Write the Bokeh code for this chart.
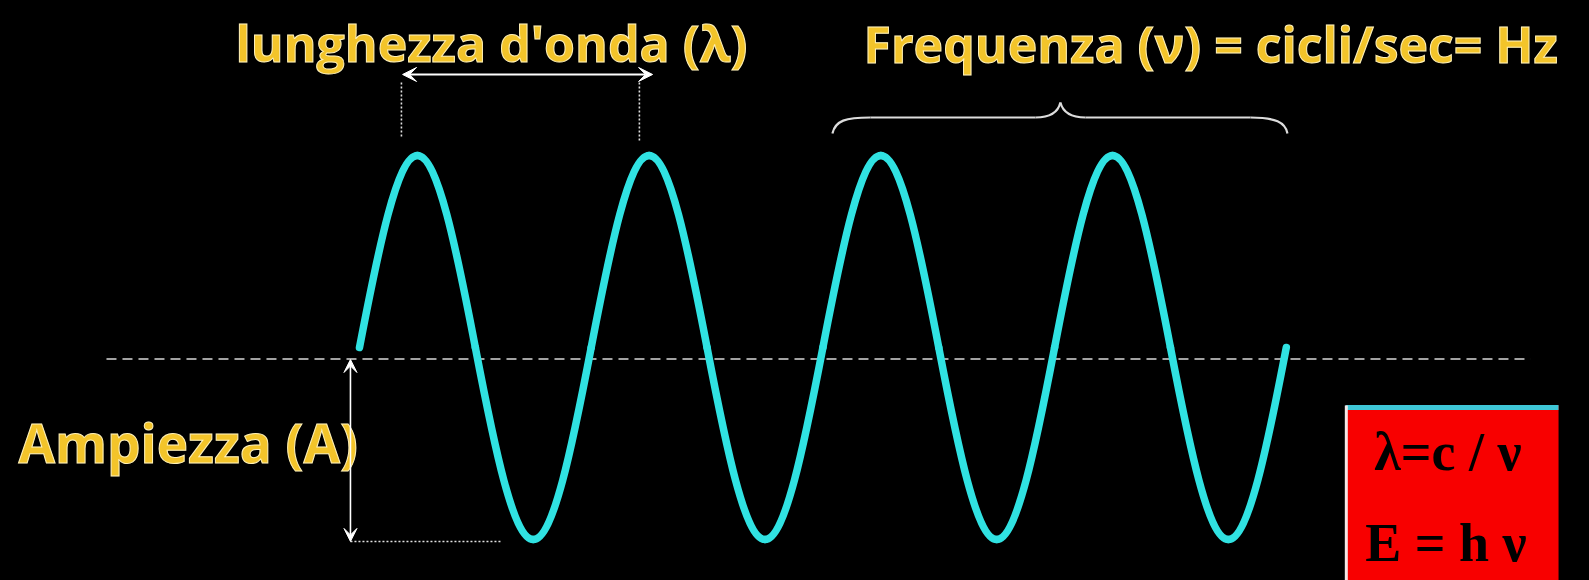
from bokeh.plotting import figure
from bokeh.models import Range1d, Arrow, VeeHead
from bokeh.core.properties import value
from bokeh.embed import file_html
from bokeh.resources import INLINE

# ---- data (x in wavelengths, y in amplitudes) ----
wave_x = [0.00, 0.25, 0.50, 0.75, 1.00, 1.25, 1.50, 1.75, 2.00,
          2.25, 2.50, 2.75, 3.00, 3.25, 3.50, 3.75, 4.00]
wave_y = [0, 1, 0, -1, 0, 1, 0, -1, 0, 1, 0, -1, 0, 1, 0, -1, 0]
midline_level = [-0.06]
title_lambda = ["lunghezza d'onda (λ)"]
title_freq = ["Frequenza (ν) = cicli/sec= Hz"]
label_amp = ["Ampiezza (A)"]
formulas = ["λ=c / ν", "E = h ν"]

YELLOW = "#f3c42a"
HALO = "#fff1b8"
CYAN = "#30e2e2"

W, H = 1589, 580
p = figure(width=W, height=H,
           x_range=Range1d(-1.5494, 5.3086), y_range=Range1d(-1.2135, 1.8073),
           x_axis_type=None, y_axis_type=None, toolbar_location=None,
           output_backend="svg", min_border=0,
           background_fill_color="black", border_fill_color="black",
           outline_line_color=None)

# ---- sine wave drawn as cubic Bezier quarter-waves through the key points ----
K1, K2, KY = 0.3261, 0.6531, 0.5122
bx0, by0, bx1, by1, cx0, cy0, cx1, cy1 = ([] for _ in range(8))
for i in range(len(wave_x) - 1):
    xa, ya, xb, yb = wave_x[i], wave_y[i], wave_x[i + 1], wave_y[i + 1]
    dx = xb - xa
    if ya == 0:
        c0 = (xa + K1 * dx, KY * yb)
        c1 = (xa + K2 * dx, yb)
    else:
        c0 = (xa + (1 - K2) * dx, ya)
        c1 = (xa + (1 - K1) * dx, KY * ya)
    bx0.append(xa); by0.append(ya); bx1.append(xb); by1.append(yb)
    cx0.append(c0[0]); cy0.append(c0[1]); cx1.append(c1[0]); cy1.append(c1[1])

# dashed mid line
p.segment(x0=[-1.092], y0=midline_level, x1=[5.054], y1=midline_level,
          line_color="#d8d8d8", line_width=1.6, line_dash="10 6")

p.bezier(x0=bx0, y0=by0, x1=bx1, y1=by1, cx0=cx0, cy0=cy0, cx1=cx1, cy1=cy1,
         line_color=CYAN, line_width=7.5, line_cap="round")

# ---- amplitude arrow ----
p.add_layout(Arrow(x_start=-0.039, y_start=-0.0625, x_end=-0.039, y_end=-1.01,
                   line_color="white", line_width=1.6,
                   start=VeeHead(size=13, fill_color="white", line_color="white"),
                   end=VeeHead(size=13, fill_color="white", line_color="white")))
p.segment(x0=[-0.039], y0=[-1.01], x1=[0.609], y1=[-1.01],
          line_color="#e0e0e0", line_width=1.6, line_dash="2 2")

# ---- wavelength arrow ----
p.add_layout(Arrow(x_start=0.186, y_start=1.422, x_end=1.265, y_end=1.422,
                   line_color="white", line_width=2,
                   start=VeeHead(size=14, fill_color="white", line_color="white"),
                   end=VeeHead(size=14, fill_color="white", line_color="white")))
p.segment(x0=[0.181, 1.208], y0=[1.380, 1.380], x1=[0.181, 1.208], y1=[1.094, 1.078],
          line_color="#e0e0e0", line_width=1.6, line_dash="2 2")

# ---- curly brace over the last waves ----
p.bezier(x0=[2.041, 2.918, 3.025, 3.846], y0=[1.115, 1.198, 1.276, 1.198],
         x1=[2.205, 3.025, 3.133, 4.005], y1=[1.198, 1.276, 1.198, 1.115],
         cx0=[2.054, 2.991, 3.034, 3.953], cy0=[1.182, 1.198, 1.234, 1.198],
         cx1=[2.098, 3.017, 3.060, 3.996], cy1=[1.198, 1.234, 1.198, 1.172],
         line_color="#dcdcdc", line_width=2.2)
p.segment(x0=[2.205, 3.133], y0=[1.198, 1.198], x1=[2.918, 3.846], y1=[1.198, 1.198],
          line_color="#dcdcdc", line_width=2.2)

# ---- yellow titles ----
common = dict(text_font=value("Open Sans"), text_font_style="bold",
              text_color=YELLOW, text_outline_color=HALO,
              text_baseline="alphabetic", text_align="left")
p.text(x=[-0.535], y=[1.585], text=title_lambda, text_font_size="50px", **common)
p.text(x=[2.175], y=[1.580], text=title_freq, text_font_size="50px", **common)
p.text(x=[-1.472], y=[-0.495], text=label_amp, text_font_size="53px", **common)

# ---- red formula box ----
p.quad(left=[4.256], right=[5.175], top=[-0.302], bottom=[-1.4],
       fill_color="#f80000", line_color=None)
p.segment(x0=[4.256], y0=[-0.313], x1=[5.175], y1=[-0.313],
          line_color="#3ec6d6", line_width=5)
p.segment(x0=[4.259], y0=[-0.302], x1=[4.259], y1=[-1.4],
          line_color="#f4e6e6", line_width=3)
p.text(x=[4.698, 4.689], y=[-0.545, -1.02], text=formulas,
       text_font=value("Liberation Serif"), text_font_style="bold",
       text_font_size="54px", text_color="black",
       text_align="center", text_baseline="middle")

html = file_html(p, INLINE)
html = html.replace("<head>", "<head><style>body{background:#000;}</style>", 1)
open("out.html", "w").write(html)
